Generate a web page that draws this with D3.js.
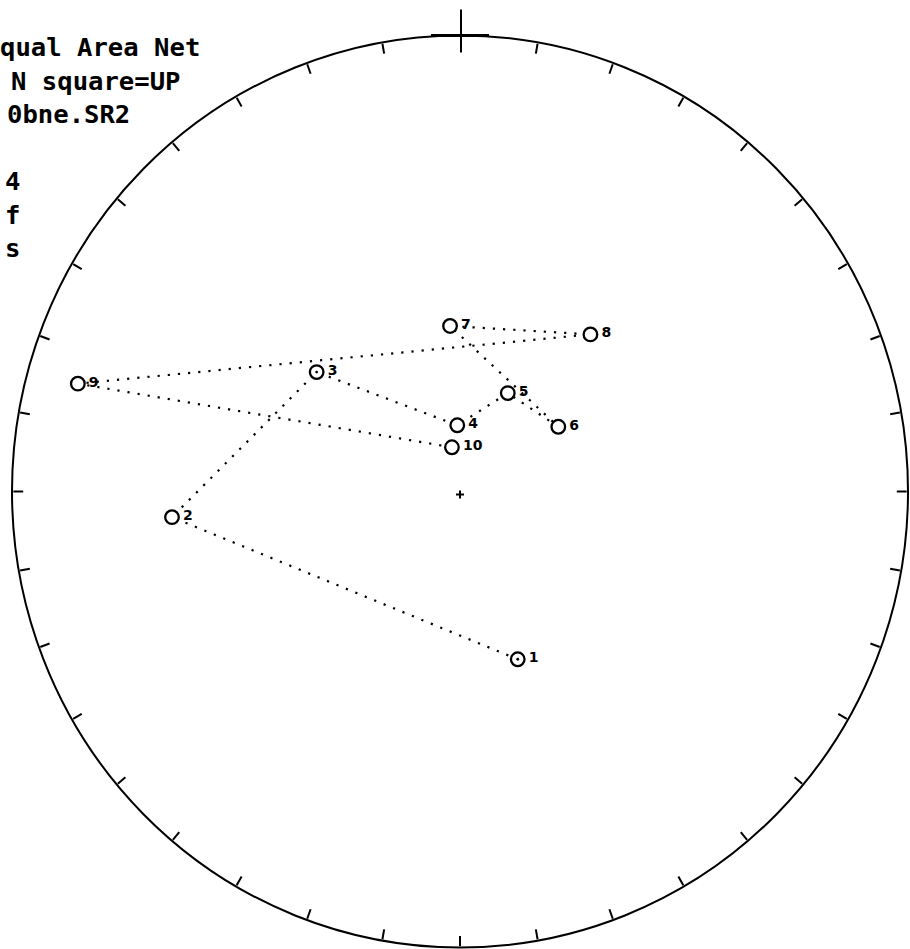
<!DOCTYPE html>
<html>
<head>
<meta charset="utf-8">
<script src="https://cdn.jsdelivr.net/npm/d3@7"></script>
<style>
  html, body { margin: 0; padding: 0; background: #fff; }
  svg { display: block; }
</style>
</head>
<body>
<script>
// Demagnetization steps plotted on a lower-hemisphere equal area net
const stepLabels = ["1", "2", "3", "4", "5", "6", "7", "8", "9", "10"];
const declination = [160.7, 265.0, 309.3, 357.6, 26.3, 57.1, 356.5, 40.2, 285.5, 349.5];
const inclination = [58.0, 35.7, 56.0, 78.2, 70.4, 68.7, 60.2, 52.8, 12.5, 82.0];
const markedSteps = ["1", "3"];

// Header block (the part that sits on the page)
const headerLines = ["qual Area Net", "N square=UP", "0bne.SR2", "", "4", "f", "s"];

// Rim ticks every 10 degrees of azimuth
const tickAzimuths = d3.range(10, 360, 10);

const W = 910, H = 949;
const cx = 460, cy = 491.5, rx = 448, ry = 456;

const svg = d3.select("body").append("svg")
  .attr("width", W).attr("height", H)
  .style("background", "#fff");

const x = d3.scaleLinear().domain([-1, 1]).range([cx - rx, cx + rx]);
const y = d3.scaleLinear().domain([-1, 1]).range([cy + ry, cy - ry]);

// Lambert equal-area projection: radius 1 at the horizontal
function project(dec, inc) {
  const r = Math.SQRT2 * Math.sin((90 - Math.abs(inc)) * Math.PI / 360);
  const a = dec * Math.PI / 180;
  return [x(r * Math.sin(a)), y(r * Math.cos(a))];
}

// Primitive circle
svg.append("ellipse")
  .attr("cx", x(0)).attr("cy", y(0))
  .attr("rx", x(1) - x(0)).attr("ry", y(0) - y(1))
  .attr("fill", "none").attr("stroke", "#000").attr("stroke-width", 2);

// Ticks pointing inwards
svg.append("g").selectAll("line").data(tickAzimuths).join("line")
  .attr("x1", d => x(0.997 * Math.sin(d * Math.PI / 180)))
  .attr("y1", d => y(0.997 * Math.cos(d * Math.PI / 180)))
  .attr("x2", d => x(0.975 * Math.sin(d * Math.PI / 180)))
  .attr("y2", d => y(0.975 * Math.cos(d * Math.PI / 180)))
  .attr("stroke", "#000").attr("stroke-width", 2);

// North cross
svg.append("line")
  .attr("x1", x(0) - 29).attr("x2", x(0) + 29)
  .attr("y1", y(1)).attr("y2", y(1))
  .attr("stroke", "#000").attr("stroke-width", 3);
svg.append("line")
  .attr("x1", x(0) + 1).attr("x2", x(0) + 1)
  .attr("y1", y(1) - 26).attr("y2", y(1) + 17)
  .attr("stroke", "#000").attr("stroke-width", 2);

// Centre mark
svg.append("path")
  .attr("d", `M${x(0) - 4},${y(0) + 3}h8M${x(0)},${y(0) - 1}v8`)
  .attr("stroke", "#000").attr("stroke-width", 2);

const pts = stepLabels.map((s, i) => {
  const [px, py] = project(declination[i], inclination[i]);
  return { label: s, px, py };
});

// Dotted path joining successive steps
svg.append("path")
  .attr("d", d3.line().x(d => d.px).y(d => d.py)(pts))
  .attr("fill", "none")
  .attr("stroke", "#000")
  .attr("stroke-width", 2.2)
  .attr("stroke-dasharray", "2.2 8");

// Step symbols (open circles = lower hemisphere)
const g = svg.append("g");
g.selectAll("circle.step").data(pts).join("circle")
  .attr("class", "step")
  .attr("cx", d => d.px).attr("cy", d => d.py).attr("r", 6.8)
  .attr("fill", "#fff").attr("stroke", "#000").attr("stroke-width", 2.3);
g.selectAll("circle.mark").data(pts.filter(d => markedSteps.includes(d.label))).join("circle")
  .attr("class", "mark")
  .attr("cx", d => d.px).attr("cy", d => d.py).attr("r", 1.4)
  .attr("fill", "#000");
g.selectAll("text").data(pts).join("text")
  .attr("x", d => d.px + 11).attr("y", d => d.py + 3)
  .attr("font-family", "DejaVu Sans, sans-serif")
  .attr("font-weight", "bold")
  .attr("font-size", 14)
  .text(d => d.label);

// Header text, each line starting at the left edge of the page
const headerStart = [0, 11, 7, 0, 5, 5, 5];
svg.append("g").selectAll("text").data(headerLines).join("text")
  .attr("x", (d, i) => headerStart[i])
  .attr("y", (d, i) => 56 + i * 33.5)
  .attr("font-family", "DejaVu Sans Mono, monospace")
  .attr("font-weight", "bold")
  .attr("font-size", 25.6)
  .text(d => d);
</script>
</body>
</html>
